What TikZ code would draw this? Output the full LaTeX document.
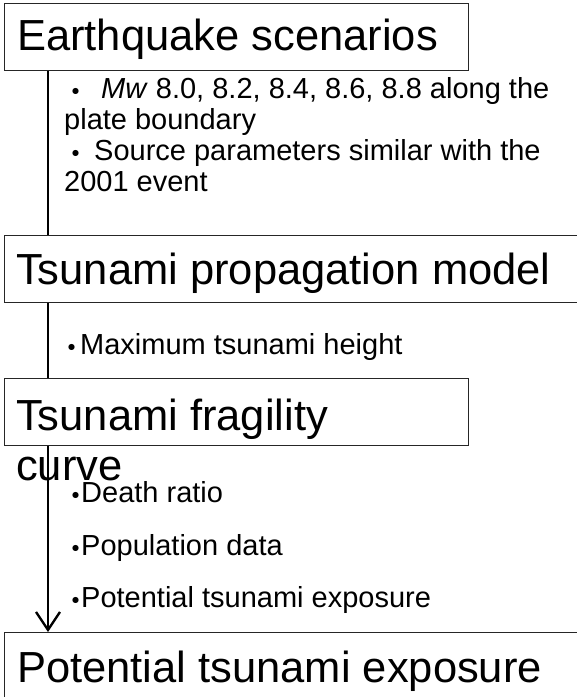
\documentclass[tikz,border=0pt]{standalone}
\usepackage{fontspec}
\setmainfont{Liberation Sans}
\newfontfamily\cjk{Noto Sans CJK JP}
\usetikzlibrary{arrows.meta}
% bullet: a katakana middle dot centred in a box of the given width
\newcommand{\bulbox}[1]{\makebox[#1][c]{\raisebox{-4pt}{\cjk ・}}}
\begin{document}
\begin{tikzpicture}[x=1pt,y=-1pt,
  stagebox/.style={draw=black!85, line width=1.3pt, fill=white, rectangle,
    inner sep=0pt, anchor=north west},
  bigtxt/.style={font=\fontsize{43.5}{50}\selectfont, inner sep=0pt, anchor=base west},
  smalltxt/.style={font=\fontsize{29}{31}\selectfont, inner sep=0pt, anchor=base west},
  conn/.style={line width=2.3pt, black}]
\useasboundingbox (0,0) rectangle (577,697);
\clip (0,0) rectangle (577,697);

% stage boxes
\node[stagebox, minimum width=464pt, minimum height=67pt] (b1) at (4,3) {};
\node[stagebox, minimum width=620pt, minimum height=67pt] (b2) at (4,235) {};
\node[stagebox, minimum width=464pt, minimum height=67pt] (b3) at (4,378) {};
\node[stagebox, minimum width=620pt, minimum height=100pt] (b4) at (4,632) {};

% flow line down the left side
\draw[conn] ([xshift=44pt]b1.south west) -- ([xshift=44pt]b2.north west);
\draw[conn] ([xshift=44pt]b2.south west) -- ([xshift=44pt]b3.north west);
\draw[conn, -{Straight Barb[length=18pt,width=24pt,line width=2.3pt]}]
  ([xshift=44pt]b3.south west) -- ([xshift=44pt]b4.north west);

% stage titles
\node[bigtxt] (t1) at (17,50) {Earthquake scenarios};
\node[bigtxt] (t2) at (16,284) {Tsunami propagation model};
\node[bigtxt] (t3) at (16,430) {Tsunami fragility};
\node[bigtxt] (t3b) at (16,480) {curve};
\node[bigtxt] (t4) at (17,682) {Potential tsunami exposure};

% inputs between stages
\node[smalltxt] (n1a) at (66,98) {\bulbox{20pt}\hspace{15pt}\textit{Mw} 8.0, 8.2, 8.4, 8.6, 8.8 along the};
\node[smalltxt] (n1b) at (64,129) {plate boundary};
\node[smalltxt] (n1c) at (66,160) {\bulbox{20pt}\hspace{8pt}Source parameters similar with the};
\node[smalltxt] (n1d) at (64,191) {2001 event};

\node[smalltxt] (n2a) at (67,354) {\bulbox{10pt}\hspace{3pt}Maximum tsunami height};

\node[smalltxt] (n3a) at (71,502) {\bulbox{10pt}Death ratio};
\node[smalltxt] (n3b) at (71,555) {\bulbox{10pt}Population data};
\node[smalltxt] (n3c) at (71,607) {\bulbox{10pt}Potential tsunami exposure};
\end{tikzpicture}
\end{document}
